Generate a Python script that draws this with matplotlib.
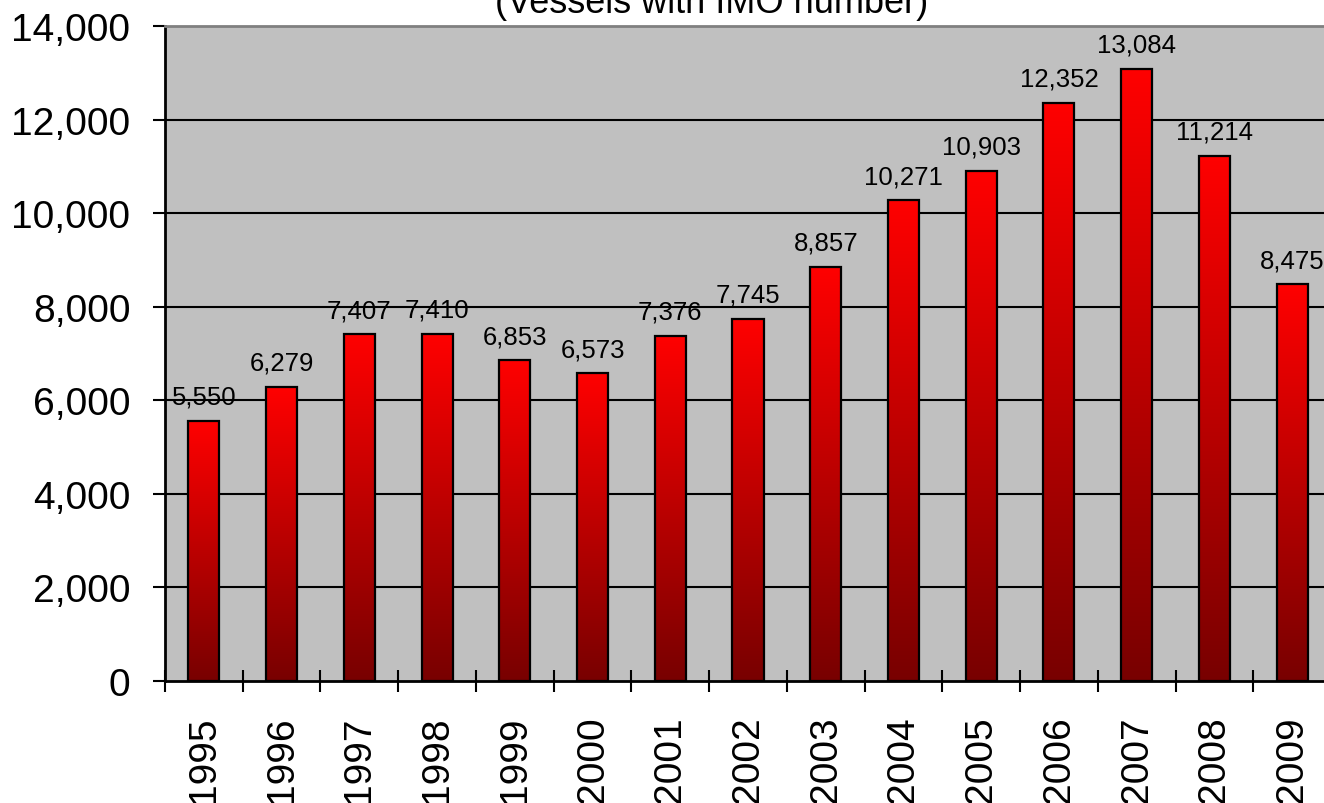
import numpy as np
import matplotlib
matplotlib.use("Agg")
import matplotlib.pyplot as plt
from matplotlib.colors import LinearSegmentedColormap
from matplotlib.ticker import FuncFormatter

plt.rcParams['font.family'] = ['Liberation Sans', 'DejaVu Sans']

years = ["1995", "1996", "1997", "1998", "1999", "2000", "2001", "2002",
         "2003", "2004", "2005", "2006", "2007", "2008", "2009"]
vessels = [5550, 6279, 7407, 7410, 6853, 6573, 7376, 7745,
           8857, 10271, 10903, 12352, 13084, 11214, 8475]

fig = plt.figure(figsize=(13.24, 8.04), dpi=100)
# plot area runs a little past the right edge of the picture
ax = fig.add_axes([165 / 1324, 1 - 682 / 804, 1166 / 1324, 655 / 804])
ax.set_facecolor("#C0C0C0")

x = np.arange(len(years))

# gridlines
for v in range(2000, 14000, 2000):
    ax.axhline(v, color="black", lw=1.5, zorder=1)

# bars with vertical gradient (dark red bottom -> red top)
cmap = LinearSegmentedColormap.from_list("redgrad", ["#780000", "#FF0000"])
grad = np.linspace(0, 1, 256).reshape(-1, 1)
bars = ax.bar(x, vessels, width=0.4, color="none", edgecolor="black",
              linewidth=1.6, zorder=3)
for b in bars:
    bx, bw, bh = b.get_x(), b.get_width(), b.get_height()
    im = ax.imshow(grad, cmap=cmap, origin="lower", aspect="auto",
                   extent=[bx, bx + bw, 0, bh], zorder=2)
    im.set_clip_path(b)

for xi, v in zip(x, vessels):
    ax.annotate(f"{v:,}", (xi, v), xytext=(0, 12.5), textcoords="offset points",
                ha="center", va="baseline", fontsize=18.5, annotation_clip=False,
                zorder=4)

ax.set_xlim(-0.5, len(years) - 0.5)
ax.set_ylim(0, 14000)

ax.set_yticks(range(0, 14001, 2000))
ax.yaxis.set_major_formatter(FuncFormatter(lambda v, p: f"{int(v):,}"))
ax.tick_params(axis="y", direction="out", length=9, width=1.5, pad=16,
               labelsize=28)

ax.set_xticks(x)
ax.set_xticklabels(years, rotation=90, fontsize=28)
ax.tick_params(axis="x", which="major", length=0, pad=25)
ax.set_xticks(np.arange(-0.5, len(years), 1.0), minor=True)
ax.tick_params(axis="x", which="minor", direction="inout", length=16,
               width=1.5)

ax.spines["left"].set_linewidth(2)
ax.spines["bottom"].set_linewidth(2)
ax.spines["top"].set_color("#808080")
ax.spines["top"].set_linewidth(2)
ax.spines["right"].set_visible(False)

# title: the first line sits above the picture, only this line shows
fig.text(712 / 1324, 1 - 13 / 804, "(Vessels with IMO number)",
         ha="center", va="baseline", fontsize=26)

fig.savefig("out.png", dpi=100)
